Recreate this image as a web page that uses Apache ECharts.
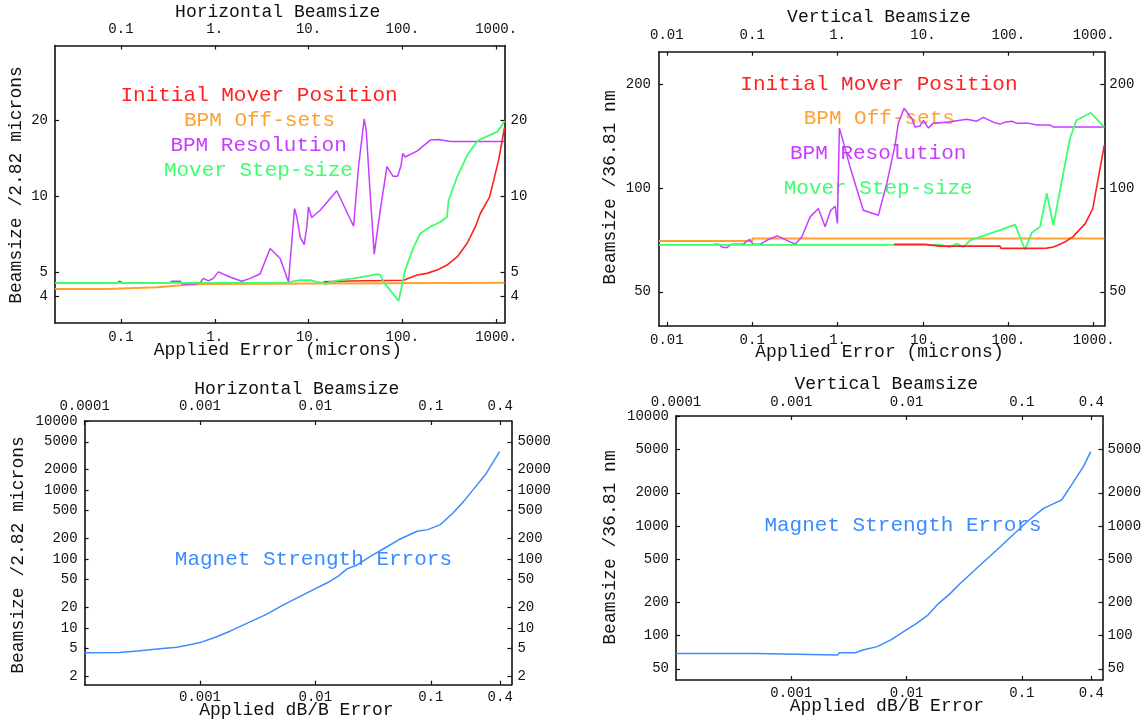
<!DOCTYPE html>
<html><head><meta charset="utf-8">
<script src="https://cdn.jsdelivr.net/npm/echarts@6/dist/echarts.min.js"></script>
<style>html,body{margin:0;padding:0;background:#fff}#c{width:1148px;height:724px}</style>
</head><body><div id="c"></div>
<script>
// ---------- tick values / labels ----------
const hxTicks = [0.1, 1, 10, 100, 1000];
const hxLabels = ['0.1', '1.', '10.', '100.', '1000.'];
const hyTicks = [4, 5, 10, 20];
const hyLabels = ['4', '5', '10', '20'];
const vxTicks = [0.01, 0.1, 1, 10, 100, 1000];
const vxLabels = ['0.01', '0.1', '1.', '10.', '100.', '1000.'];
const vyTicks = [50, 100, 200];
const vyLabels = ['50', '100', '200'];
const mxTopTicks = [0.0001, 0.001, 0.01, 0.1, 0.4];
const mxTopLabels = ['0.0001', '0.001', '0.01', '0.1', '0.4'];
const mxBotTicks = [0.001, 0.01, 0.1, 0.4];
const mxBotLabels = ['0.001', '0.01', '0.1', '0.4'];
const mhyLeftTicks = [2, 5, 10, 20, 50, 100, 200, 500, 1000, 2000, 5000, 10000];
const mhyRightTicks = [2, 5, 10, 20, 50, 100, 200, 500, 1000, 2000, 5000];
const mvyLeftTicks = [50, 100, 200, 500, 1000, 2000, 5000, 10000];
const mvyRightTicks = [50, 100, 200, 500, 1000, 2000, 5000];

// ---------- Horizontal beamsize (top-left) ----------
const hInitialMover = [[14.4,4.56],[27.8,4.60],[103,4.63],[143,4.86],[183,4.93],[234,5.08],[299,5.32],[383,5.73],[489,6.48],[600,7.56],[678,8.53],[853,9.93],[1062,13.9],[1227,18.7]];
const hBpmOffsets = [[0.0198,4.27],[0.0714,4.34],[0.242,4.42],[0.448,4.47],[0.728,4.52],[1227,4.52]];
const hBpmResolution = [[0.0198,4.52],[0.09,4.52],[0.097,4.59],[0.105,4.52],[0.33,4.52],[0.35,4.59],[0.43,4.59],[0.45,4.47],[0.62,4.47],[0.697,4.52],[0.755,4.71],[0.855,4.60],[0.966,4.71],[1.09,5.00],[1.45,4.77],[1.94,4.59],[2.38,4.71],[3.04,4.90],[3.89,6.19],[4.98,5.65],[6.11,4.56],[7.08,8.93],[7.50,8.26],[8.13,6.88],[8.97,6.42],[9.59,7.56],[9.98,9.06],[10.8,8.22],[13.3,8.79],[20.0,10.5],[30.2,7.59],[34.1,13.1],[39.2,20.3],[41.2,18.2],[45.4,10.2],[50.1,5.88],[58.1,8.79],[68.5,13.1],[79.4,12.0],[89.0,12.0],[96.7,13.2],[101,14.8],[107,14.3],[143,15.1],[199,16.7],[243,16.8],[324,16.5],[1227,16.5]];
const hMoverStep = [[0.0198,4.52],[6.0,4.52],[6.37,4.56],[8.13,4.63],[10.4,4.63],[12.2,4.56],[14.4,4.52],[15.4,4.47],[17.0,4.56],[21.7,4.63],[30.2,4.71],[41.9,4.81],[53.6,4.90],[58.1,4.86],[63.1,4.56],[91.2,3.83],[107,5.08],[132,6.28],[155,7.10],[199,7.56],[254,7.89],[299,8.26],[311,9.63],[383,11.9],[489,14.5],[625,16.5],[678,16.8],[1021,18.0],[1156,19.1],[1227,19.9]];

// ---------- Vertical beamsize (top-right) ----------
const vInitialMover = [[4.6,68.6],[10.5,68.6],[15.8,67.8],[80,67.8],[82,66.8],[188,66.8],[282,66.9],[337,67.4],[403,68.7],[483,70.2],[527,71.3],[569,72.1],[800,78.9],[973,87.1],[1330,133]];
const vBpmOffsets = [[0.0081,70.2],[0.1,71.3],[1330,71.3]];
const vBpmResolution = [[0.0352,68.7],[0.0402,68.7],[0.0441,67.4],[0.0504,67.1],[0.0577,68.7],[0.0789,68.7],[0.0927,71.0],[0.102,68.7],[0.124,68.7],[0.148,70.5],[0.197,72.6],[0.243,70.8],[0.318,68.7],[0.381,72.1],[0.477,82.4],[0.596,87.1],[0.714,77.1],[0.832,86.1],[0.935,88.5],[0.995,78.9],[1.05,149],[1.12,141],[1.40,115],[2.00,86.1],[3.00,83.3],[3.77,103],[4.71,133],[5.15,154],[6.01,170],[7.39,159],[8.07,150],[9.25,151],[10.1,157],[11.6,149],[13.2,154],[19.0,155],[27.2,157],[32.6,158],[42.7,156],[51.0,160],[66.8,155],[80.0,153],[91.5,155],[110,156],[125,154],[171,154],[215,152],[308,152],[337,150],[527,150],[1330,150]];
const vMoverStep = [[0.0081,68.4],[15.8,68.4],[20.7,67.4],[24.9,69.0],[29.7,67.4],[35.6,70.5],[46.6,72.1],[80,75.4],[120,78.3],[157,66.2],[188,74.1],[235,77.1],[282,96.3],[337,77.9],[403,98.5],[527,139],[627,157],[927,165],[1330,150]];

// ---------- Magnet strength errors ----------
const hMagnet = [[0.0001,4.35],[0.0002,4.38],[0.000205,4.58],[0.000286,4.62],[0.00029,4.85],[0.000471,5.01],[0.000628,5.24],[0.000778,5.61],[0.001,6.12],[0.00138,7.39],[0.00184,9.03],[0.00263,11.9],[0.00376,15.7],[0.00538,21.9],[0.00769,29.6],[0.01,37.0],[0.0127,45.1],[0.0158,56.3],[0.0188,71.8],[0.0225,80.2],[0.030,109],[0.040,144],[0.0532,191],[0.0762,252],[0.0944,266],[0.121,314],[0.156,463],[0.193,683],[0.239,1064],[0.297,1659],[0.395,3606]];
const vMagnet = [[0.0001,69.0],[0.000497,69.0],[0.000515,66.7],[0.00252,66.7],[0.00261,70.0],[0.00361,70.0],[0.00417,74.1],[0.00557,79.5],[0.00744,92.7],[0.00993,113],[0.0123,130],[0.0153,154],[0.0190,197],[0.0236,239],[0.0293,300],[0.0364,370],[0.0486,489],[0.0649,646],[0.0866,855],[0.1156,1130],[0.154,1443],[0.191,1603],[0.221,1719],[0.275,2438],[0.341,3458],[0.395,4731]];

// ---------- colours ----------
const C = {red:'#ff2020', orange:'#ffa030', purple:'#c83cff', green:'#3cff6e', blue:'#3c8cff', ink:'#111'};
const FONT = '"Liberation Mono", "DejaVu Sans Mono", monospace';
const L = Math.log10;

function axis(pos, gi, min, max, ticks, labels, margin) {
  const lv = ticks.map(t => L(t));
  const lab = labels || ticks.map(String);
  return {
    type: 'value', gridIndex: gi, position: pos, min: L(min), max: L(max), scale: true,
    axisLine: {show: true, onZero: false, lineStyle: {color: C.ink, width: 1.6}},
    axisTick: {show: true, inside: true, length: 4, customValues: lv, lineStyle: {color: C.ink, width: 1.2}},
    axisLabel: {show: true, customValues: lv, margin: margin, color: C.ink, fontFamily: FONT, fontSize: 14,
      showMinLabel: true, showMaxLabel: true, hideOverlap: false,
      formatter: v => { const i = lv.findIndex(x => Math.abs(x - v) < 1e-6); return i >= 0 ? lab[i] : ''; }},
    splitLine: {show: false}
  };
}
function ser(gi, data, color, width, step) {
  const s = {type: 'line', xAxisIndex: 2 * gi, yAxisIndex: 2 * gi, data: data.map(p => [L(p[0]), L(p[1])]),
    showSymbol: false, symbol: 'none', silent: true, animation: false,
    lineStyle: {color: color, width: width}, itemStyle: {color: color}};
  if (step) s.step = step;
  return s;
}
function txt(x, y, text, size, color, rot) {
  return {type: 'text', x: x, y: y, rotation: rot || 0, silent: true,
    style: {text: text, font: size + 'px ' + FONT, fill: color, textAlign: 'center', textVerticalAlign: 'middle', align: 'center', verticalAlign: 'middle'}};
}

const grids = [
  {left: 55, top: 45.5, width: 449.5, height: 277.5},
  {left: 659, top: 51.7, width: 445.3, height: 274.3},
  {left: 84.6, top: 421, width: 426.8, height: 263.7},
  {left: 676, top: 416, width: 426.5, height: 264}
];

const xAxes = [
  axis('bottom', 0, 0.0198, 1227, hxTicks, hxLabels, 7),
  axis('top', 0, 0.0198, 1227, hxTicks, hxLabels, 9),
  axis('bottom', 1, 0.0081, 1330, vxTicks, vxLabels, 7),
  axis('top', 1, 0.0081, 1330, vxTicks, vxLabels, 9),
  axis('bottom', 2, 0.0001, 0.5, mxBotTicks, mxBotLabels, 6),
  axis('top', 2, 0.0001, 0.5, mxTopTicks, mxTopLabels, 8),
  axis('bottom', 3, 0.0001, 0.5, mxBotTicks, mxBotLabels, 6),
  axis('top', 3, 0.0001, 0.5, mxTopTicks, mxTopLabels, 7)
];
const yAxes = [
  axis('left', 0, 3.13, 39.7, hyTicks, hyLabels, 7),
  axis('right', 0, 3.13, 39.7, hyTicks, hyLabels, 6),
  axis('left', 1, 39.8, 248, vyTicks, vyLabels, 8),
  axis('right', 1, 39.8, 248, vyTicks, vyLabels, 5),
  axis('left', 2, 1.5, 10000, mhyLeftTicks, null, 7),
  axis('right', 2, 1.5, 10000, mhyRightTicks, null, 6),
  axis('left', 3, 39.5, 10000, mvyLeftTicks, null, 7),
  axis('right', 3, 39.5, 10000, mvyRightTicks, null, 5)
];

const series = [
  ser(0, hBpmOffsets, C.orange, 2, 'end'),
  ser(0, hBpmResolution, C.purple, 1.5),
  ser(0, hInitialMover, C.red, 1.6),
  ser(0, hMoverStep, C.green, 1.8),
  ser(1, vBpmOffsets, C.orange, 2, 'end'),
  ser(1, vBpmResolution, C.purple, 1.5),
  ser(1, vMoverStep, C.green, 1.8),
  ser(1, vInitialMover, C.red, 1.6),
  ser(2, hMagnet, C.blue, 1.5),
  ser(3, vMagnet, C.blue, 1.5)
];

const graphics = [
  txt(277.7, 12, 'Horizontal Beamsize', 18, C.ink),
  txt(277.9, 350, 'Applied Error (microns)', 18, C.ink),
  txt(16, 185, 'Beamsize /2.82 microns', 18, C.ink, Math.PI / 2),
  txt(259, 95, 'Initial Mover Position', 21, C.red),
  txt(259.6, 120, 'BPM Off-sets', 21, C.orange),
  txt(258.6, 145.3, 'BPM Resolution', 21, C.purple),
  txt(258.4, 170.7, 'Mover Step-size', 21, C.green),

  txt(878.9, 17.3, 'Vertical Beamsize', 18, C.ink),
  txt(879.5, 352.7, 'Applied Error (microns)', 18, C.ink),
  txt(610, 187.5, 'Beamsize /36.81 nm', 18, C.ink, Math.PI / 2),
  txt(878.9, 84, 'Initial Mover Position', 21, C.red),
  txt(879.3, 118.3, 'BPM Off-sets', 21, C.orange),
  txt(878.2, 153.3, 'BPM Resolution', 21, C.purple),
  txt(878.2, 188.3, 'Mover Step-size', 21, C.green),

  txt(296.8, 389.3, 'Horizontal Beamsize', 18, C.ink),
  txt(296.4, 710.7, 'Applied dB/B Error', 18, C.ink),
  txt(18.6, 555, 'Beamsize /2.82 microns', 18, C.ink, Math.PI / 2),
  txt(313.4, 559, 'Magnet Strength Errors', 21, C.blue),

  txt(886.2, 384, 'Vertical Beamsize', 18, C.ink),
  txt(886.9, 706.7, 'Applied dB/B Error', 18, C.ink),
  txt(610, 547.5, 'Beamsize /36.81 nm', 18, C.ink, Math.PI / 2),
  txt(903, 525.7, 'Magnet Strength Errors', 21, C.blue)
];

const chart = echarts.init(document.getElementById('c'), null, {renderer: 'canvas'});
chart.setOption({
  backgroundColor: '#fff',
  animation: false,
  grid: grids,
  xAxis: xAxes,
  yAxis: yAxes,
  series: series,
  graphic: graphics
});
</script>
</body></html>
